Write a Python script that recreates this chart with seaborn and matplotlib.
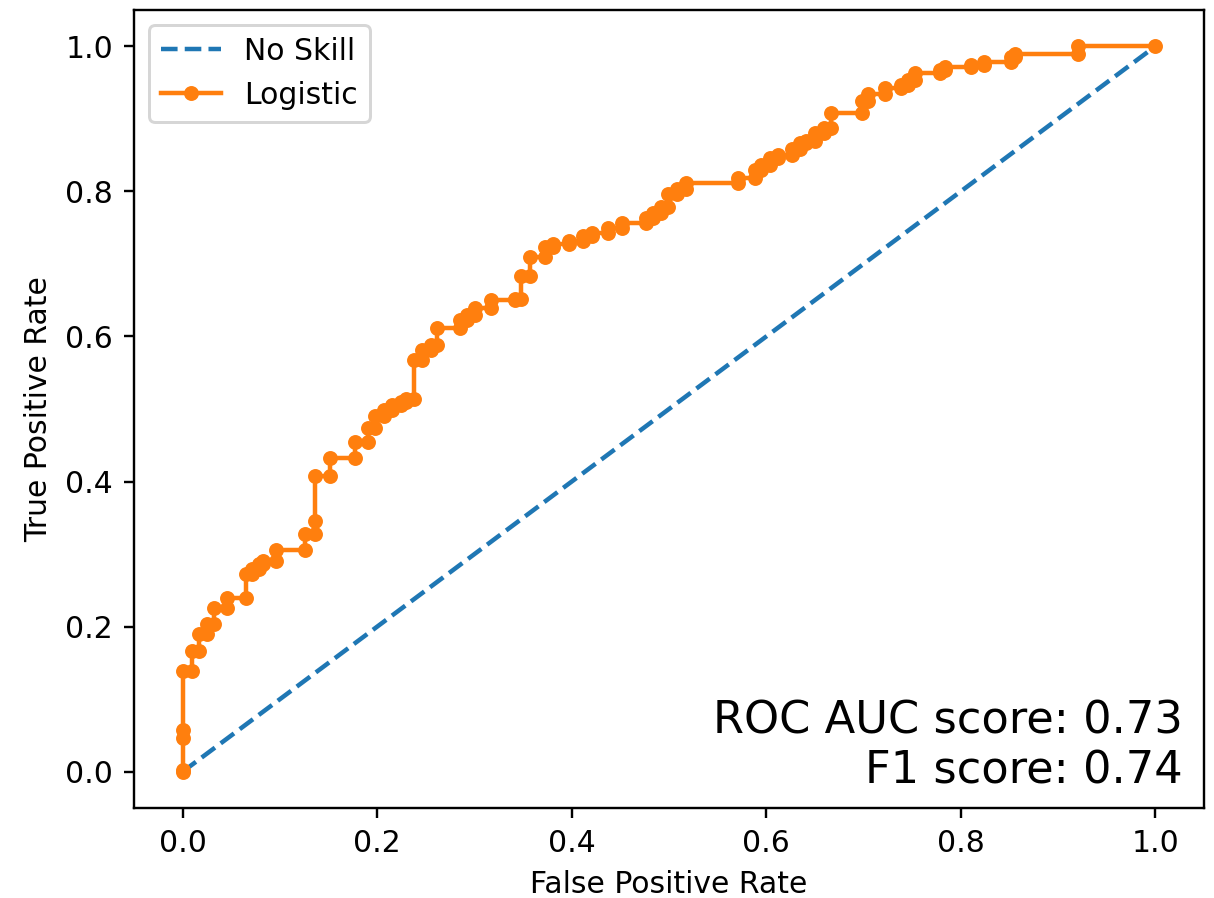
import numpy as np
import pandas as pd
import matplotlib
matplotlib.use("Agg")
import matplotlib.pyplot as plt
import seaborn as sns

# ROC points
fpr = [0, 0, 0, 0, 0, 0.010, 0.010, 0.017, 0.017, 0.025, 0.025, 0.032, 0.032, 0.046, 0.046,
       0.065, 0.065, 0.071, 0.071, 0.078, 0.078, 0.083, 0.083, 0.096, 0.096, 0.126, 0.126,
       0.136, 0.136, 0.136, 0.152, 0.152, 0.177, 0.177, 0.191, 0.191, 0.198, 0.198, 0.207,
       0.207, 0.215, 0.215, 0.224, 0.224, 0.230, 0.230, 0.238, 0.238, 0.246, 0.246, 0.255,
       0.255, 0.262, 0.262, 0.285, 0.285, 0.292, 0.292, 0.301, 0.301, 0.317, 0.317, 0.342,
       0.342, 0.348, 0.348, 0.357, 0.357, 0.373, 0.373, 0.381, 0.381, 0.397, 0.397, 0.412,
       0.412, 0.421, 0.421, 0.437, 0.437, 0.452, 0.452, 0.476, 0.476, 0.484, 0.484, 0.492,
       0.492, 0.499, 0.499, 0.508, 0.508, 0.517, 0.517, 0.571, 0.571, 0.588, 0.588, 0.595,
       0.595, 0.604, 0.604, 0.612, 0.612, 0.626, 0.626, 0.635, 0.635, 0.641, 0.641, 0.650,
       0.650, 0.659, 0.659, 0.667, 0.667, 0.698, 0.698, 0.705, 0.705, 0.722, 0.722, 0.739,
       0.739, 0.746, 0.746, 0.753, 0.753, 0.779, 0.779, 0.784, 0.784, 0.810, 0.810, 0.824,
       0.824, 0.852, 0.852, 0.856, 0.856, 0.920, 0.920, 1.0]
tpr = [0, 0.003, 0.047, 0.058, 0.139, 0.139, 0.166, 0.166, 0.190, 0.190, 0.204, 0.204, 0.226,
       0.226, 0.240, 0.240, 0.273, 0.273, 0.280, 0.280, 0.287, 0.287, 0.291, 0.291, 0.306,
       0.306, 0.328, 0.328, 0.346, 0.407, 0.407, 0.432, 0.432, 0.455, 0.455, 0.474, 0.474,
       0.491, 0.491, 0.498, 0.498, 0.505, 0.505, 0.509, 0.509, 0.514, 0.514, 0.568, 0.568,
       0.581, 0.581, 0.588, 0.588, 0.611, 0.611, 0.622, 0.622, 0.629, 0.629, 0.639, 0.639,
       0.650, 0.650, 0.652, 0.652, 0.684, 0.684, 0.709, 0.709, 0.723, 0.723, 0.727, 0.727,
       0.732, 0.732, 0.738, 0.738, 0.743, 0.743, 0.750, 0.750, 0.757, 0.757, 0.763, 0.763,
       0.770, 0.770, 0.778, 0.778, 0.797, 0.797, 0.803, 0.803, 0.811, 0.811, 0.819, 0.819,
       0.829, 0.829, 0.836, 0.836, 0.846, 0.846, 0.850, 0.850, 0.859, 0.859, 0.866, 0.866,
       0.870, 0.870, 0.881, 0.881, 0.888, 0.888, 0.908, 0.908, 0.924, 0.924, 0.934, 0.934,
       0.943, 0.943, 0.946, 0.946, 0.953, 0.953, 0.963, 0.963, 0.967, 0.967, 0.971, 0.971,
       0.974, 0.974, 0.978, 0.978, 0.985, 0.985, 0.990, 0.990, 1.0, 1.0]

ns_fpr = [0, 1]
ns_tpr = [0, 1]

roc_auc = 0.73
f1 = 0.74

fig = plt.figure(figsize=(1214 / 215, 898 / 215), dpi=215)
ax = fig.add_axes([134 / 1214, 1 - 808 / 898, 1070 / 1214, 798 / 898])

sns.lineplot(x=ns_fpr, y=ns_tpr, ax=ax, linestyle='--', color='C0', label='No Skill',
             estimator=None, sort=False)
sns.lineplot(x=fpr, y=tpr, ax=ax, marker='.', markersize=10, markeredgewidth=0,
             color='C1', label='Logistic', estimator=None, sort=False)

ax.set_xlabel('False Positive Rate')
ax.set_ylabel('True Positive Rate')
ax.text(0.98, 0.02, 'ROC AUC score: %.2f\nF1 score: %.2f' % (roc_auc, f1),
        transform=ax.transAxes, ha='right', va='bottom', fontsize=15)
ax.legend(loc='upper left')

fig.savefig('out.png', dpi=215)
